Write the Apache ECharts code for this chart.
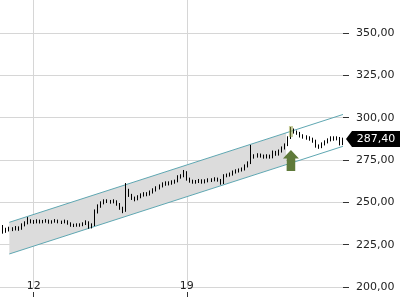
<!DOCTYPE html>
<html><head><meta charset="utf-8">
<script src="https://cdn.jsdelivr.net/npm/echarts@6/dist/echarts.min.js"></script>
<style>html,body{margin:0;padding:0;background:#fff}#c{width:400px;height:300px}</style>
</head><body><div id="c"></div>
<script>
// x tick positions (bar index) and labels
const xTickIndex = [11, 61];
const xTickLabels = ['12', '19'];
// y axis range and tick values
const yMin = 200, yMax = 369.5, yStep = 25;
const yTicks = [200, 225, 250, 275, 300, 325, 350];
// candles: [open, close, low, high]
const ohlc = [
[235.0,236.0,232.0,238.5],[236.0,233.1,231.5,236.6],[233.1,233.7,232.0,235.0],[233.7,234.3,232.8,235.6],
[234.3,234.0,233.0,235.3],[234.0,234.8,233.4,236.0],[234.8,234.3,233.2,235.8],[234.3,236.6,233.8,237.6],
[236.6,237.8,235.8,238.8],[237.8,239.0,237.0,241.3],[239.0,238.6,237.6,240.0],[238.6,238.2,237.3,239.6],
[238.2,239.2,237.6,240.0],[239.2,238.4,237.5,239.8],[238.4,238.8,237.6,239.6],[238.8,239.2,238.0,240.1],
[239.2,238.2,237.4,239.8],[238.2,238.6,237.4,239.4],[238.6,239.3,238.0,240.1],[239.3,238.4,237.6,239.8],
[238.4,238.2,237.2,239.2],[238.2,239.0,237.6,239.8],[239.0,237.8,236.8,239.4],[237.8,236.6,235.6,238.2],
[236.6,236.2,235.4,237.4],[236.2,236.8,235.6,237.6],[236.8,236.4,235.6,237.6],[236.4,237.4,235.9,238.2],
[237.4,238.4,236.6,239.4],[238.4,235.4,234.4,238.8],[235.4,236.6,234.6,237.6],[236.6,244.3,236.0,245.8],
[244.3,247.8,243.4,248.8],[247.8,249.6,246.8,250.6],[249.6,250.8,248.8,251.8],[250.8,250.6,249.6,251.8],
[250.6,250.2,249.2,251.4],[250.2,250.8,249.4,251.8],[250.8,249.0,248.0,251.2],[249.0,246.7,245.6,249.6],
[246.7,244.9,243.6,247.4],[244.9,257.3,244.4,261.4],[257.3,254.3,253.2,258.0],[254.3,252.6,251.4,255.0],
[252.6,252.0,250.6,253.4],[252.0,253.2,251.2,254.2],[253.2,254.3,252.4,255.3],[254.3,254.9,253.4,256.0],
[254.9,254.6,253.6,256.0],[254.6,256.1,254.0,257.0],[256.1,257.3,255.2,258.3],[257.3,258.5,256.4,259.5],
[258.5,259.6,257.6,260.6],[259.6,260.8,258.8,261.8],[260.8,261.4,259.8,262.4],[261.4,261.0,260.0,262.4],
[261.0,262.0,260.4,263.0],[262.0,262.4,261.0,263.4],[262.4,265.0,261.8,266.0],[265.0,265.6,264.0,266.6],
[265.6,267.9,264.8,269.1],[267.9,263.8,262.8,268.4],[263.8,262.6,261.6,264.6],[262.6,262.0,261.0,263.4],
[262.0,262.3,261.0,263.2],[262.3,262.8,261.4,263.8],[262.8,262.0,261.0,263.6],[262.0,262.6,261.2,263.6],
[262.6,263.2,261.8,264.2],[263.2,263.0,262.0,264.2],[263.0,263.8,262.4,264.8],[263.8,263.2,262.2,264.6],
[263.2,261.4,260.4,263.8],[261.4,265.6,260.8,266.6],[265.6,266.1,264.8,267.0],[266.1,266.7,265.2,267.6],
[266.7,267.9,265.8,268.8],[267.9,268.5,267.0,269.5],[268.5,269.1,267.6,270.0],[269.1,269.7,268.2,270.6],
[269.7,271.5,268.8,272.4],[271.5,273.2,270.6,274.2],[273.2,276.8,272.6,283.9],[276.8,277.4,275.8,278.4],
[277.4,278.0,276.4,279.0],[278.0,277.4,276.4,278.8],[277.4,276.8,275.8,278.2],[276.8,277.6,275.9,278.4],
[277.6,276.8,275.8,278.2],[276.8,279.7,276.0,280.6],[279.7,278.5,277.5,280.4],[278.5,280.3,277.6,281.2],
[280.3,282.1,279.4,283.0],[282.1,283.9,281.2,284.8],[283.9,288.0,283.2,289.0],[288.0,292.7,287.4,294.5],
[292.7,291.5,290.6,293.6],[291.5,290.9,289.9,292.4],[290.9,289.2,288.3,291.6],[289.2,288.6,287.6,290.2],
[288.6,288.0,287.0,289.6],[288.0,287.4,286.4,289.0],[287.4,286.2,285.2,288.2],[286.2,283.3,282.3,287.0],
[283.3,282.7,281.6,284.2],[282.7,284.5,282.0,285.4],[284.5,285.6,283.6,286.6],[285.6,286.8,284.8,287.8],
[286.8,288.0,286.0,289.0],[288.0,287.4,286.4,289.0],[287.4,288.0,286.6,289.0],[288.0,284.5,283.6,288.6],
[284.5,287.4,283.8,288.2]
];
// trend channel (x in bar-index units)
const channelX = [3.04, 112];
const channelUpper = [238.2, 301.9];
const channelLower = [219.5, 283.1];
// shaded part of the channel
const fillX = [3.04, 93.4];
const fillUpper = [238.2, 291.0];
const fillLower = [219.5, 272.3];
// annotations
const lastPrice = 287.40;
const signalIndex = 95;
const signalPrice = 274.7;
const highlightPrice = 291.8;

const FONT = 'DejaVu Sans';
const fmt = v => v.toFixed(2).replace('.', ',');
const categories = ohlc.map((_, i) => String(i));
const isTick = idx => xTickIndex.indexOf(idx) >= 0;

const chart = echarts.init(document.getElementById('c'), null, {renderer: 'canvas'});
chart.setOption({
  animation: false,
  backgroundColor: '#fff',
  grid: {left: 0, right: 57, top: 0, bottom: 13, containLabel: false},
  xAxis: [{
    type: 'category', data: categories, boundaryGap: false, offset: 5,
    axisLine: {show: false, onZero: false},
    axisTick: {show: true, interval: isTick, length: 5, lineStyle: {color: '#333'}},
    axisLabel: {interval: isTick, margin: -11, fontFamily: FONT, fontSize: 11, color: '#222',
      formatter: (v) => { const k = xTickIndex.indexOf(Number(v)); return k >= 0 ? xTickLabels[k] : ''; }},
    splitLine: {show: true, interval: isTick, lineStyle: {color: '#d6d6d6', width: 1}}
  }, {
    type: 'value', show: false, min: 0, max: ohlc.length - 1,
    axisLine: {show: false, onZero: false}, axisTick: {show: false}, axisLabel: {show: false}, splitLine: {show: false}
  }],
  yAxis: {
    type: 'value', position: 'right', min: yMin, max: yMax, interval: yStep,
    axisLine: {show: false, onZero: false},
    axisTick: {show: true, length: 6, customValues: yTicks, lineStyle: {color: '#333'}},
    axisLabel: {margin: 13, fontFamily: FONT, fontSize: 11, color: '#222',
      customValues: yTicks, formatter: v => fmt(v)},
    splitLine: {lineStyle: {color: '#d6d6d6', width: 1}}
  },
  series: [{
    type: 'custom', xAxisIndex: 1, yAxisIndex: 0, z: 1, silent: true,
    data: [[0]],
    renderItem: (params, api) => {
      const pts = [
        api.coord([fillX[0], fillLower[0]]),
        api.coord([fillX[1], fillLower[1]]),
        api.coord([fillX[1], fillUpper[1]]),
        api.coord([fillX[0], fillUpper[0]])
      ];
      return {type: 'polygon', shape: {points: pts}, style: {fill: '#dcdcdc'}};
    }
  }, {
    type: 'line', xAxisIndex: 1, z: 3, symbol: 'none', silent: true,
    data: channelX.map((x, i) => [x, channelUpper[i]]),
    lineStyle: {color: '#5fa7b2', width: 1}
  }, {
    type: 'line', xAxisIndex: 1, z: 3, symbol: 'none', silent: true,
    data: channelX.map((x, i) => [x, channelLower[i]]),
    lineStyle: {color: '#5fa7b2', width: 1}
  }, {
    type: 'candlestick', xAxisIndex: 0, z: 4, barWidth: 1,
    data: ohlc,
    itemStyle: {color: '#000', color0: '#000', borderColor: '#000', borderColor0: '#000', borderWidth: 1},
    markPoint: {
      silent: true,
      data: [{
        coord: [String(signalIndex), highlightPrice], symbol: 'rect', symbolSize: [4, 11],
        itemStyle: {color: 'rgba(150,160,70,0.55)'}, label: {show: false}
      }, {
        coord: [String(signalIndex), signalPrice],
        symbol: 'path://M8,0 L16,8 L12.3,8 L12.3,20 L3.7,20 L3.7,8 L0,8 Z', symbolSize: [16, 21],
        itemStyle: {color: '#5f7a3a'}, label: {show: false}
      }, {
        coord: [String(ohlc.length - 1), lastPrice],
        symbol: 'path://M0,8 L6,0 L54,0 L54,16 L6,16 Z', symbolSize: [54, 16], symbolOffset: [30, 0],
        itemStyle: {color: '#000'},
        label: {show: true, position: 'inside', offset: [3, 0], color: '#fff', fontFamily: FONT, fontSize: 11,
          formatter: () => fmt(lastPrice)}
      }]
    }
  }]
});
</script></body></html>
